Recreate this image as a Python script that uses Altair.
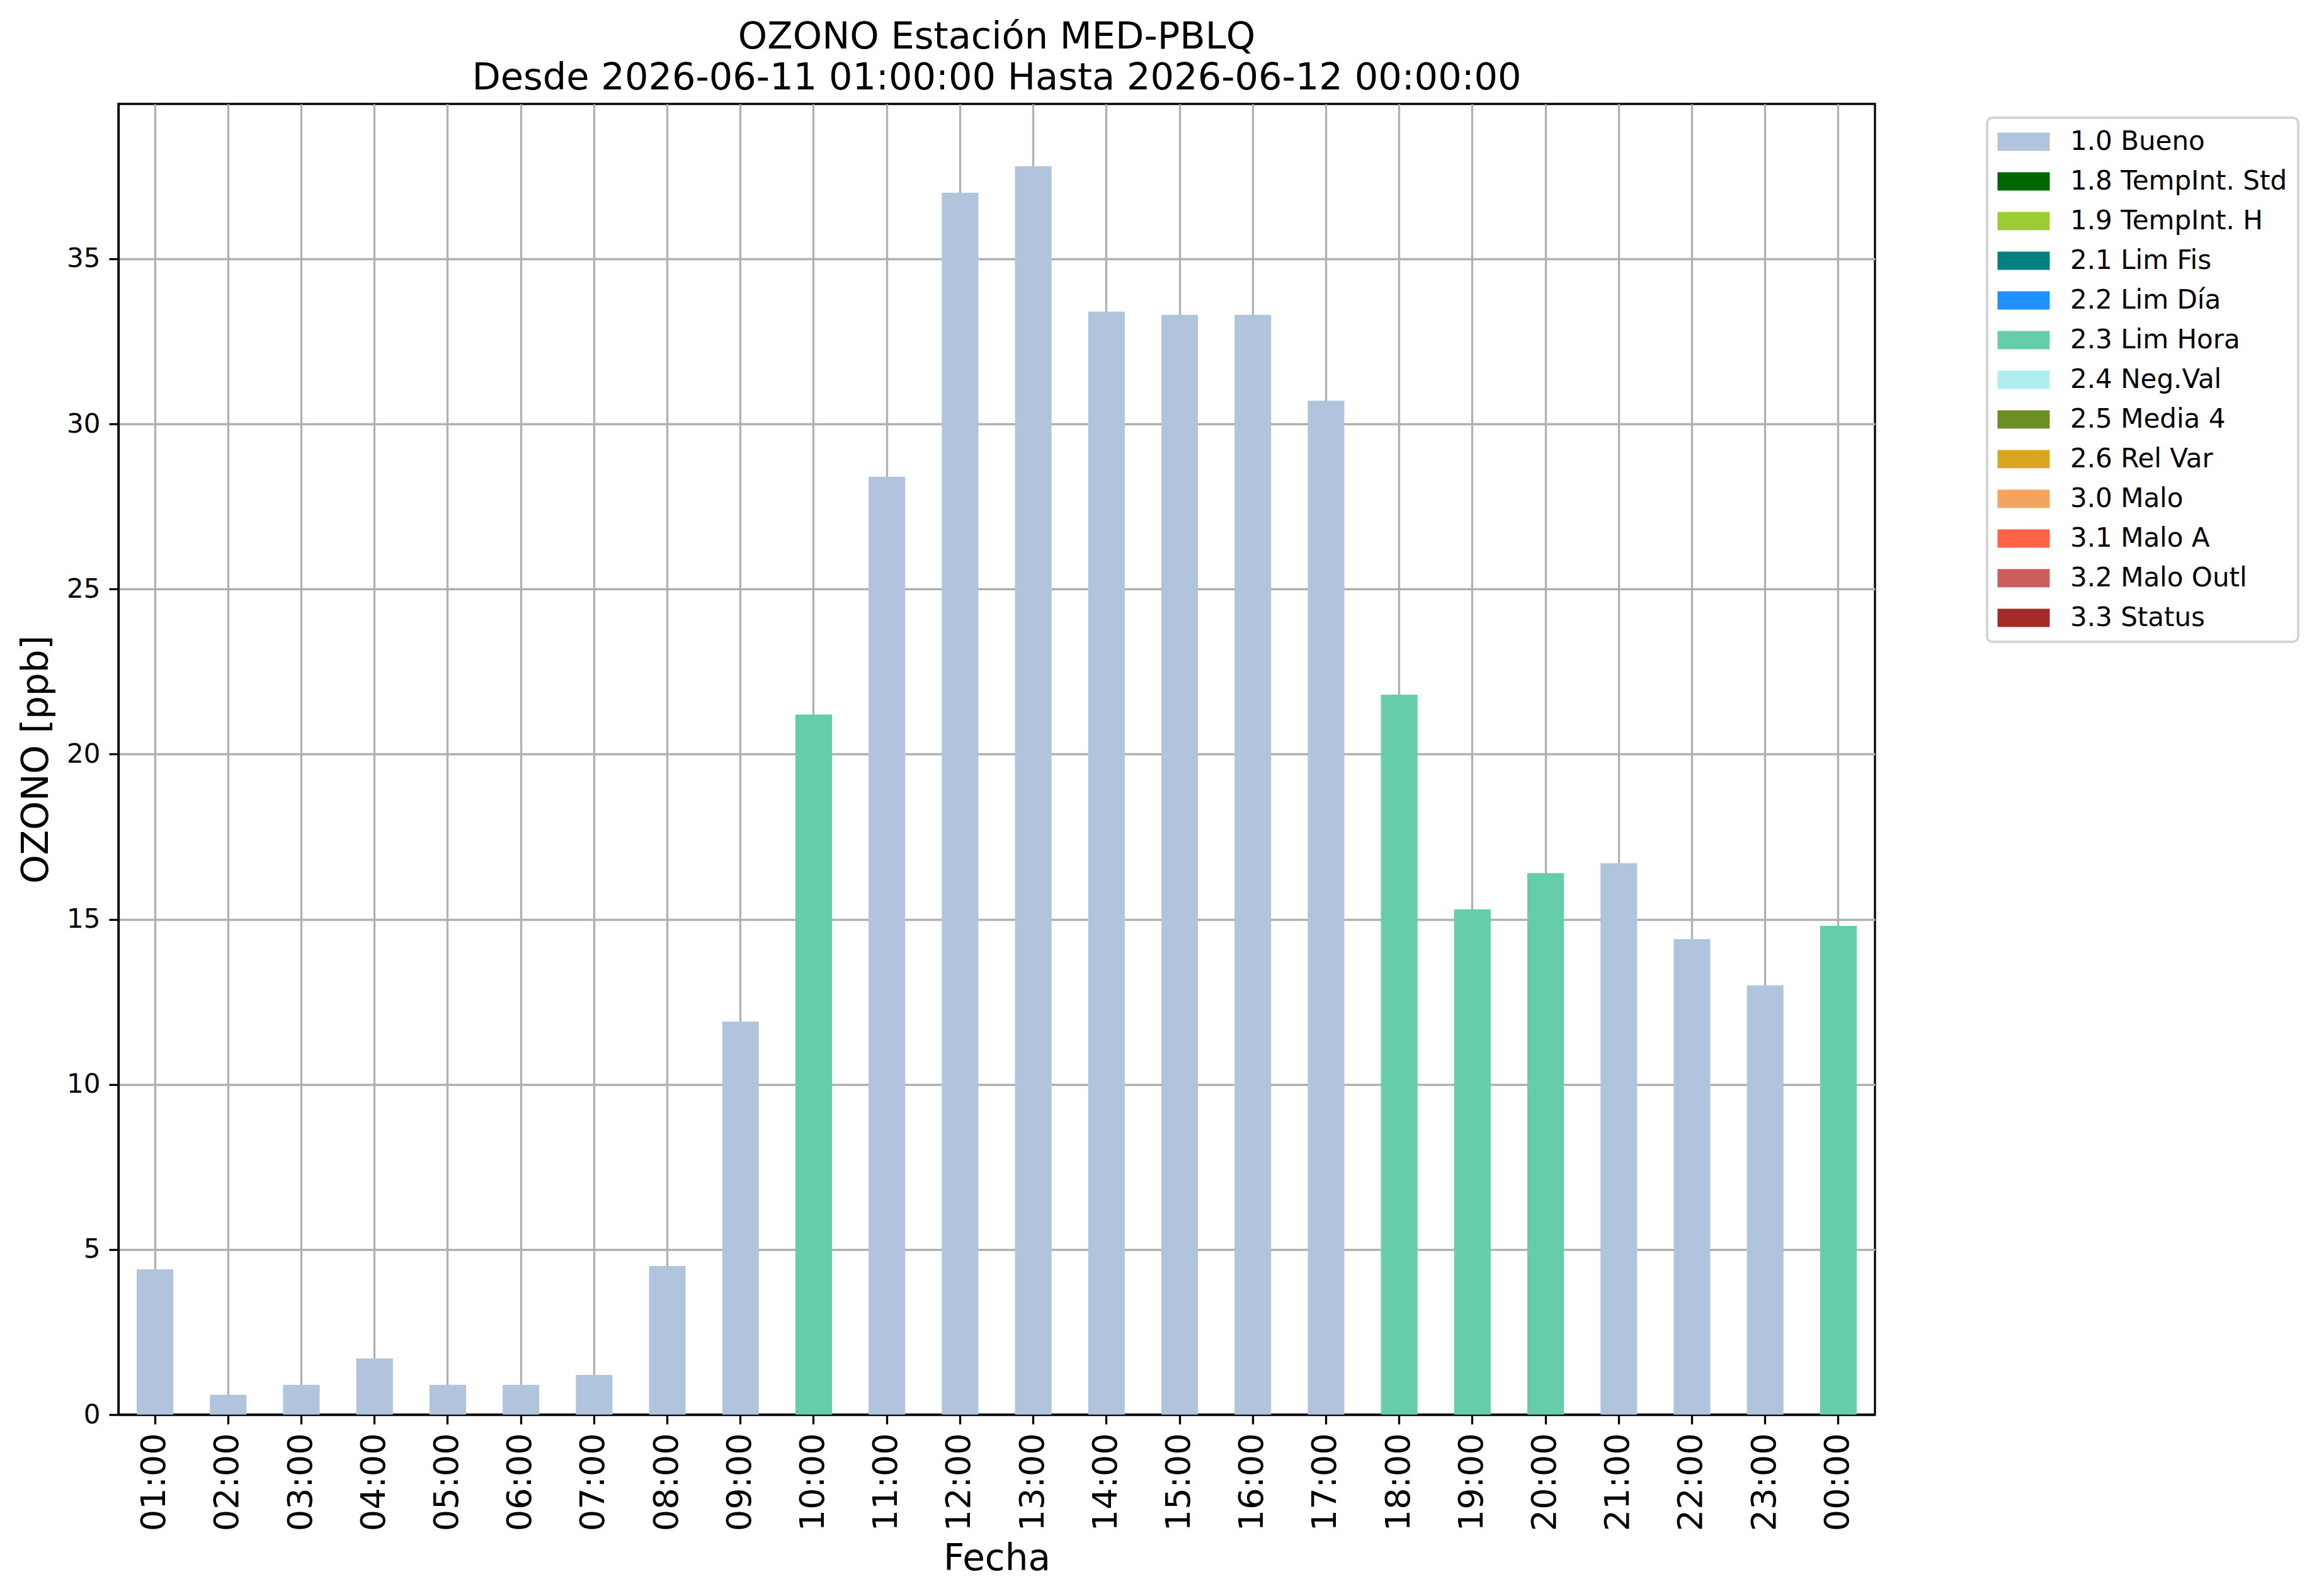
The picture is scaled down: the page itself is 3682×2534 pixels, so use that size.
import altair as alt
import pandas as pd

# ---- data -------------------------------------------------------------
hours = ["01:00", "02:00", "03:00", "04:00", "05:00", "06:00", "07:00", "08:00",
         "09:00", "10:00", "11:00", "12:00", "13:00", "14:00", "15:00", "16:00",
         "17:00", "18:00", "19:00", "20:00", "21:00", "22:00", "23:00", "00:00"]
ozono = [4.4, 0.6, 0.9, 1.7, 0.9, 0.9, 1.2, 4.5,
         11.9, 21.2, 28.4, 37.0, 37.8, 33.4, 33.3, 33.3,
         30.7, 21.8, 15.3, 16.4, 16.7, 14.4, 13.0, 14.8]
flags = ["1.0 Bueno"] * 9 + ["2.3 Lim Hora"] + ["1.0 Bueno"] * 7 + \
        ["2.3 Lim Hora"] * 3 + ["1.0 Bueno"] * 3 + ["2.3 Lim Hora"]

flag_labels = ["1.0 Bueno", "1.8 TempInt. Std", "1.9 TempInt. H", "2.1 Lim Fis",
               "2.2 Lim Día", "2.3 Lim Hora", "2.4 Neg.Val", "2.5 Media 4",
               "2.6 Rel Var", "3.0 Malo", "3.1 Malo A", "3.2 Malo Outl", "3.3 Status"]
flag_colors = ["#B0C4DE", "#006400", "#9ACD32", "#008080", "#1E90FF", "#66CDAA",
               "#AFEEEE", "#6B8E23", "#DAA520", "#F4A460", "#FF6347", "#CD5C5C",
               "#A52A2A"]

y_ticks = [0, 5, 10, 15, 20, 25, 30, 35]
y_max = 39.69
title_lines = ["OZONO Estación MED-PBLQ",
               "Desde 2026-06-11 01:00:00 Hasta 2026-06-12 00:00:00"]

df = pd.DataFrame({"hora": hours, "ozono": ozono, "flag": flags})

FONT = "DejaVu Sans"
LW = 3.3

chart = alt.Chart(df).mark_bar(opacity=1).encode(
    x=alt.X(
        "hora:N", sort=hours, title="Fecha",
        scale=alt.Scale(paddingInner=0.5, paddingOuter=0.25),
        axis=alt.Axis(
            labelAngle=270, labelFontSize=54, labelPadding=14, bandPosition=0.5,
            titleFontSize=58, titleY=246, titleBaseline="alphabetic",
        ),
    ),
    y=alt.Y(
        "ozono:Q", title="OZONO [ppb]",
        scale=alt.Scale(domain=[0, y_max], nice=False, zero=True),
        axis=alt.Axis(
            values=y_ticks, labelFontSize=42, labelPadding=14,
            titleFontSize=58, titleX=-130, titleY=1040.5, titleAngle=270,
            titleAlign="center", titleBaseline="middle",
        ),
    ),
    color=alt.Color(
        "flag:N",
        scale=alt.Scale(domain=flag_labels, range=flag_colors),
        legend=alt.Legend(title=None),
    ),
).properties(
    width=2789,
    height=2081,
    autosize=alt.AutoSizeParams(type="none"),
    padding={"left": 180, "top": 157, "right": 697, "bottom": 270},
    title=alt.TitleParams(
        text=title_lines, fontSize=59, font=FONT, fontWeight="normal",
        color="black", anchor="middle", frame="group", offset=11, lineHeight=65,
    ),
).configure_view(
    stroke="black", strokeWidth=LW,
).configure_axis(
    labelFont=FONT, titleFont=FONT, labelColor="black", titleColor="black",
    titleFontWeight="normal",
    grid=True, gridColor="#b0b0b0", gridWidth=LW,
    domain=True, domainColor="black", domainWidth=LW,
    ticks=True, tickColor="black", tickWidth=LW, tickSize=15,
    zindex=1, labelOverlap=False,
).configure_legend(
    orient="none", legendX=2967, legendY=22,
    padding=17, strokeColor="#d5d5d5", strokeWidth=4, cornerRadius=8,
    fillColor="white",
    labelFont=FONT, labelFontSize=42, labelColor="black",
    labelLimit=2000, rowPadding=21,
    symbolType="M-2.86,-1H2.86V1H-2.86Z", symbolSize=841,
    symbolOffset=20, labelOffset=53,
    symbolStrokeWidth=0, symbolOpacity=1,
)

chart.save("out.html", embed_options={"renderer": "svg", "actions": False})
